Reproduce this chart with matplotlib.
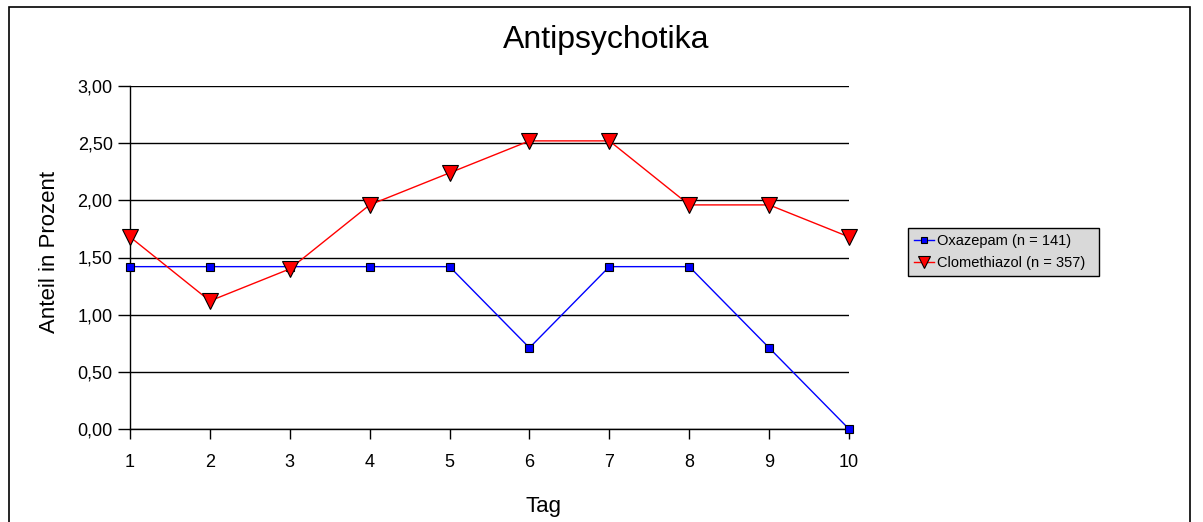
import matplotlib
matplotlib.use("Agg")
import matplotlib.pyplot as plt
from matplotlib.patches import Rectangle
from matplotlib.ticker import FuncFormatter

days = [1, 2, 3, 4, 5, 6, 7, 8, 9, 10]
oxazepam = [1.42, 1.42, 1.42, 1.42, 1.42, 0.71, 1.42, 1.42, 0.71, 0.00]
clomethiazol = [1.68, 1.12, 1.40, 1.96, 2.24, 2.52, 2.52, 1.96, 1.96, 1.68]
yticks = [0.0, 0.5, 1.0, 1.5, 2.0, 2.5, 3.0]
labels = ["Oxazepam (n = 141)", "Clomethiazol (n = 357)"]

plt.rcParams['font.family'] = ['Liberation Sans', 'DejaVu Sans']

W, H = 1203, 522
fig = plt.figure(figsize=(W / 100, H / 100), dpi=100)
fig.patches.append(Rectangle((9 / W, -0.1), (1190 - 9) / W, 1.1 - 7 / H,
                             transform=fig.transFigure, fill=False,
                             edgecolor='black', linewidth=1.2))

ax = fig.add_axes([130 / W, 1 - 429 / H, (849 - 130) / W, (429 - 86) / H])
ax.plot(days, oxazepam, color='#0000ff', linewidth=1, marker='s', markersize=5.8,
        markerfacecolor='#0000ff', markeredgecolor='black', markeredgewidth=0.8,
        clip_on=False, zorder=4, label=labels[0])
ax.plot(days, clomethiazol, color='#ff0000', linewidth=1, marker='v', markersize=11,
        markerfacecolor='#ff0000', markeredgecolor='black', markeredgewidth=0.8,
        clip_on=False, zorder=5, label=labels[1])

ax.set_xlim(1, 10)
ax.set_ylim(0, 3)
ax.set_yticks(yticks)
ax.yaxis.set_major_formatter(FuncFormatter(lambda v, p: f"{v:.2f}".replace('.', ',')))
ax.set_xticks(days)
ax.grid(axis='y', color='black', linewidth=1)
ax.set_axisbelow(True)
for s in ['top', 'right']:
    ax.spines[s].set_visible(False)
for s in ['left', 'bottom']:
    ax.spines[s].set_linewidth(1)
ax.tick_params(axis='y', direction='out', length=8.5, width=1, labelsize=13, pad=4)
ax.tick_params(axis='x', direction='out', length=7, width=1, labelsize=13, pad=11)

fig.text(544 / W, 1 - 512 / H, "Tag", fontsize=16, ha='center', va='baseline')
fig.text(50 / W, 1 - 252 / H, "Anteil in Prozent", fontsize=16, rotation=90,
         ha='center', va='center')
fig.text(606 / W, 1 - 48 / H, "Antipsychotika", fontsize=23, ha='center', va='baseline')

leg = fig.legend(loc='upper left', bbox_to_anchor=(908 / W, 1 - 282 / H, 191 / W, 54 / H),
                 mode='expand', fontsize=10.5, frameon=True, fancybox=False,
                 handlelength=1.4, handletextpad=0.2, borderpad=0.4, labelspacing=0.55,
                 markerscale=0.85, borderaxespad=0)
leg.get_frame().set_facecolor('#d9d9d9')
leg.get_frame().set_edgecolor('black')
leg.get_frame().set_linewidth(1)
leg.get_frame().set_alpha(1)

fig.savefig("out.png", dpi=100)
